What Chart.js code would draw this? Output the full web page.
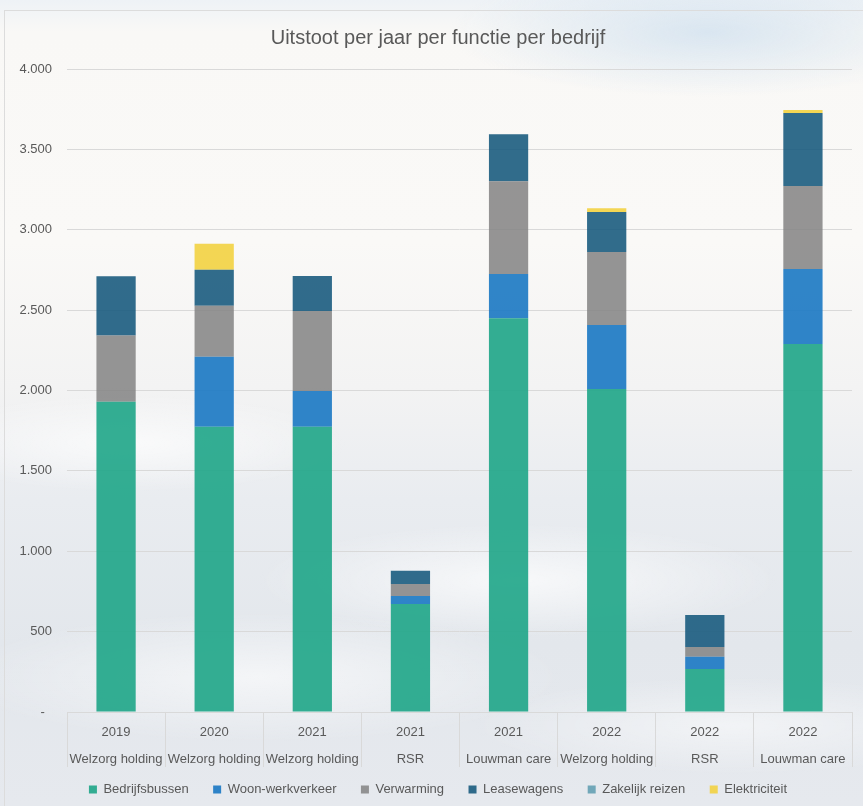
<!DOCTYPE html>
<html>
<head>
<meta charset="utf-8">
<script src="https://cdn.jsdelivr.net/npm/chart.js@4.4.1/dist/chart.umd.min.js"></script>
<style>
  html, body { margin: 0; padding: 0; width: 863px; height: 806px; overflow: hidden; }
  body {
    background:
      radial-gradient(ellipse 30% 8% at 82% 4%, rgba(214,228,240,0.9), rgba(214,228,240,0) 100%),
      radial-gradient(ellipse 25% 6% at 15% 55%, rgba(255,255,255,0.7), rgba(255,255,255,0) 100%),
      radial-gradient(ellipse 30% 7% at 60% 72%, rgba(255,255,255,0.7), rgba(255,255,255,0) 100%),
      radial-gradient(ellipse 35% 8% at 30% 84%, rgba(255,255,255,0.6), rgba(255,255,255,0) 100%),
      radial-gradient(ellipse 30% 6% at 85% 90%, rgba(255,255,255,0.5), rgba(255,255,255,0) 100%),
      linear-gradient(#eef2f6 0%, #f9f8f6 4%, #faf9f7 30%, #f3f3f3 48%, #e9ecf0 62%, #e3e7ec 80%, #e6e9ee 100%);
    font-family: "Liberation Sans", Arial, sans-serif;
  }
  #frame { position: absolute; left: 4px; top: 10px; width: 866px; height: 800px; border: 1px solid #dcdcdc; }
  canvas { display: block; }
</style>
</head>
<body>
<div id="frame"><canvas id="chart" width="866" height="795"></canvas></div>
<script>
const years = ['2019', '2020', '2021', '2021', '2021', '2022', '2022', '2022'];
const companies = ['Welzorg holding', 'Welzorg holding', 'Welzorg holding', 'RSR', 'Louwman care', 'Welzorg holding', 'RSR', 'Louwman care'];

const bedrijfsbussen = [1930, 1775, 1775, 672, 2450, 2010, 268, 2290];
const woonWerkverkeer = [0, 435, 222, 50, 274, 398, 75, 466];
const verwarming = [412, 317, 498, 75, 578, 454, 62, 516];
const leasewagens = [368, 224, 218, 81, 292, 249, 199, 454];
const zakelijkReizen = [0, 0, 0, 0, 0, 0, 0, 0];
const elektriciteit = [0, 162, 0, 0, 0, 22, 0, 19];

const yTicks = [0, 500, 1000, 1500, 2000, 2500, 3000, 3500, 4000];

const textColor = '#595959';
const gridColor = '#d9d9d9';
const fontFamily = '"Liberation Sans", Arial, sans-serif';

function ds(label, data, color) {
    return {
        label: label,
        data: data,
        backgroundColor: color,
        borderWidth: 0,
        barPercentage: 0.5,
        categoryPercentage: 0.8
    };
}

const data = {
    labels: years.map((y, i) => [y, companies[i]]),
    datasets: [
        ds('Bedrijfsbussen', bedrijfsbussen, 'rgba(30,165,135,0.9)'),
        ds('Woon-werkverkeer', woonWerkverkeer, 'rgba(25,120,195,0.9)'),
        ds('Verwarming', verwarming, 'rgba(130,130,130,0.85)'),
        ds('Leasewagens', leasewagens, 'rgba(20,88,124,0.88)'),
        ds('Zakelijk reizen', zakelijkReizen, 'rgba(100,160,178,0.9)'),
        ds('Elektriciteit', elektriciteit, 'rgba(242,210,65,0.9)')
    ]
};

function fmt(v) {
    if (v === 0) return '-  ';
    return String(v).replace(/\B(?=(\d{3})+(?!\d))/g, '.');
}

const config = {
    type: 'bar',
    data: data,
    options: {
        responsive: false,
        animation: false,
        layout: { padding: 0 },
        plugins: {
            title: {
                display: true,
                text: 'Uitstoot per jaar per functie per bedrijf',
                color: textColor,
                font: { family: fontFamily, size: 20, weight: 'normal', lineHeight: 1.2 },
                padding: { top: 15, bottom: 19 }
            },
            legend: {
                position: 'bottom',
                labels: {
                    boxWidth: 8,
                    boxHeight: 8,
                    padding: 10,
                    color: textColor,
                    font: { family: fontFamily, size: 13 },
                    generateLabels: (c) => {
                        const items = Chart.defaults.plugins.legend.labels.generateLabels(c);
                        // extra gap between items (not after the last one)
                        items.forEach((it, i) => { if (i < items.length - 1) it.text = it.text + '    '; });
                        return items;
                    }
                }
            },
            tooltip: { enabled: false }
        },
        scales: {
            x: {
                stacked: true,
                grid: {
                    offset: true,
                    drawOnChartArea: false,
                    drawTicks: true,
                    tickLength: 55,
                    color: gridColor
                },
                border: { display: true, color: gridColor },
                ticks: {
                    color: textColor,
                    padding: -48.5,
                    maxRotation: 0,
                    autoSkip: false,
                    font: { family: fontFamily, size: 13, lineHeight: 27 / 13 }
                },
                afterFit: (s) => { s.height = 61; }
            },
            y: {
                stacked: true,
                min: 0,
                max: 4000,
                afterBuildTicks: (s) => { s.ticks = yTicks.map(v => ({ value: v })); },
                grid: { color: gridColor, drawTicks: false },
                border: { display: false },
                ticks: {
                    color: textColor,
                    padding: 15,
                    font: { family: fontFamily, size: 13 },
                    callback: (v) => fmt(v)
                },
                afterFit: (s) => { s.width = 62; }
            },
            spacer: {
                position: 'right',
                display: true,
                grid: { display: false },
                border: { display: false },
                ticks: { display: false },
                afterFit: (s) => { s.width = 19; }
            }
        }
    }
};

const chart = new Chart(document.getElementById('chart'), config);
</script>
</body>
</html>
